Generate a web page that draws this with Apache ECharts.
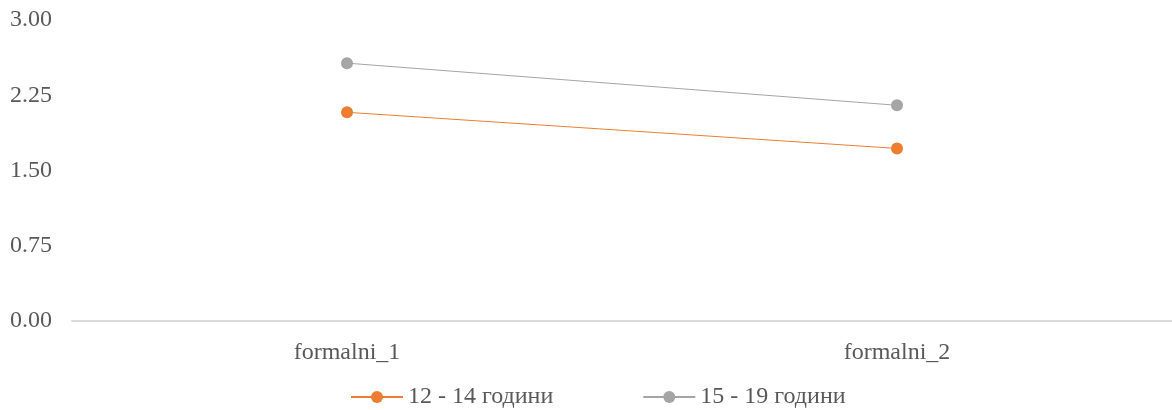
<!DOCTYPE html>
<html>
<head>
<meta charset="utf-8">
<script src="https://cdn.jsdelivr.net/npm/echarts@6/dist/echarts.min.js"></script>
<style>
  html, body { margin: 0; padding: 0; background: #fff; }
  #chart { width: 1172px; height: 410px; }
</style>
</head>
<body>
<div id="chart"></div>
<script>
// Categories and series values
const categories = ['formalni_1', 'formalni_2'];
const seriesNames = ['12 - 14 години', '15 - 19 години'];
const group1214 = [2.08, 1.72];
const group1519 = [2.57, 2.15];
const yTicks = { min: 0, max: 3, interval: 0.75 };

const font = '"Liberation Serif", "Times New Roman", serif';
const textColor = '#595959';
const chart = echarts.init(document.getElementById('chart'), null, { renderer: 'canvas' });

function lineSeries(name, data, color) {
  return {
    name: name,
    type: 'line',
    data: data,
    symbol: 'circle',
    symbolSize: 12,
    lineStyle: { color: color, width: 1 },
    itemStyle: { color: color },
    emphasis: { disabled: true },
    animation: false
  };
}

chart.setOption({
  animation: false,
  grid: { left: 72, right: 0, top: 20, bottom: 89 },
  legend: {
    left: 350,
    bottom: 1,
    padding: 0,
    itemWidth: 52,
    itemHeight: 15,
    itemGap: 89,
    textStyle: { fontFamily: font, fontSize: 24, color: textColor },
    data: seriesNames
  },
  xAxis: {
    type: 'category',
    data: categories,
    boundaryGap: true,
    axisLine: { lineStyle: { color: '#d9d9d9', width: 2 } },
    axisTick: { show: false },
    axisLabel: { fontFamily: font, fontSize: 24, color: textColor, margin: 20 }
  },
  yAxis: {
    type: 'value',
    min: yTicks.min,
    max: yTicks.max,
    interval: yTicks.interval,
    axisLine: { show: false },
    axisTick: { show: false },
    splitLine: { show: false },
    axisLabel: {
      fontFamily: font, fontSize: 24, color: textColor, margin: 20,
      formatter: v => v.toFixed(2)
    }
  },
  series: [
    lineSeries(seriesNames[0], group1214, '#ED7D31'),
    lineSeries(seriesNames[1], group1519, '#A5A5A5')
  ]
});
</script>
</body>
</html>
